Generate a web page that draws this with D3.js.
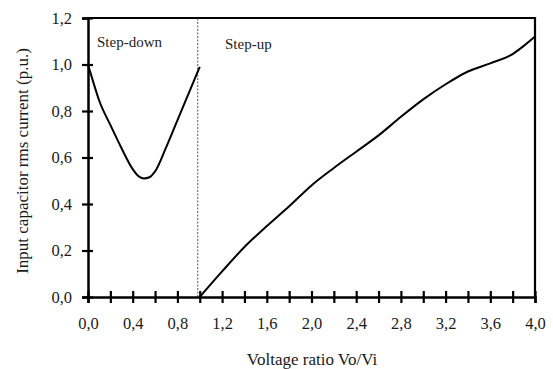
<!DOCTYPE html>
<html>
<head>
<meta charset="utf-8">
<script src="https://cdn.jsdelivr.net/npm/d3@7"></script>
<style>
  body { margin: 0; background: #fff; }
  svg text { font-family: "Liberation Serif", "Times New Roman", Times, "DejaVu Serif", serif; }
</style>
</head>
<body>
<svg id="chart" width="553" height="369"></svg>
<script>
// step-down branch (Vo/Vi < 1)
const downX = [0.0, 0.05, 0.1, 0.2, 0.3, 0.4, 0.45, 0.5, 0.55, 0.6, 0.7, 0.8, 0.9, 1.0];
const downY = [1.00, 0.92, 0.845, 0.74, 0.64, 0.55, 0.52, 0.51, 0.515, 0.54, 0.645, 0.76, 0.875, 0.99];

// step-up branch (Vo/Vi > 1)
const upX = [1.0, 1.2, 1.4, 1.6, 1.8, 2.0, 2.2, 2.4, 2.6, 2.8, 3.0, 3.2, 3.4, 3.6, 3.8, 3.9, 4.0];
const upY = [0.00, 0.11, 0.215, 0.305, 0.39, 0.48, 0.555, 0.625, 0.695, 0.775, 0.85, 0.915, 0.97, 1.005, 1.045, 1.08, 1.12];

const xTicks = d3.range(0, 4.01, 0.2);
const yTicks = [0, 0.2, 0.4, 0.6, 0.8, 1.0, 1.2];
const regionLabels = ['Step-down', 'Step-up'];

const margin = { left: 88, right: 18, top: 18, bottom: 72 };
const width = 553, height = 369;

const svg = d3.select('#chart');

const x = d3.scaleLinear().domain([0, 4]).range([margin.left, width - margin.right]);
const y = d3.scaleLinear().domain([0, 1.2]).range([height - margin.bottom, margin.top]);

const fmt = v => d3.format('.1f')(v).replace('.', ',');

// frame: top and right
svg.append('path')
    .attr('d', `M${x(0)},${y(1.2)}H${x(4)}V${y(0)}`)
    .attr('fill', 'none')
    .attr('stroke', '#000')
    .attr('stroke-width', 2.2);

// dashed separator at Vo/Vi = 1
svg.append('line')
    .attr('x1', x(1) - 2).attr('x2', x(1) - 2)
    .attr('y1', y(0)).attr('y2', y(1.2))
    .attr('stroke', '#555')
    .attr('stroke-width', 1)
    .attr('stroke-dasharray', '2,1.5');

// x axis, ticks crossing the line
svg.append('g')
    .attr('transform', `translate(0,${y(0)})`)
    .call(d3.axisBottom(x)
        .tickValues(xTicks)
        .tickSize(6)
        .tickPadding(14)
        .tickFormat(d => Math.round(d * 10) % 4 === 0 ? fmt(d) : ''))
    .call(g => g.attr('font-family', null))
    .call(g => g.select('.domain').attr('stroke-width', 2.5))
    .call(g => g.selectAll('.tick line').attr('y1', -6).attr('stroke-width', 2.2))
    .call(g => g.selectAll('.tick text')
        .attr('font-size', 16.5)
        .attr('fill', '#1a1a1a'));

// y axis
svg.append('g')
    .attr('transform', `translate(${x(0)},0)`)
    .call(d3.axisLeft(y)
        .tickValues(yTicks)
        .tickSize(6)
        .tickPadding(10)
        .tickFormat(fmt))
    .call(g => g.attr('font-family', null))
    .call(g => g.select('.domain').attr('stroke-width', 2.5))
    .call(g => g.selectAll('.tick line').attr('x1', 5).attr('stroke-width', 2.2))
    .call(g => g.selectAll('.tick text')
        .attr('font-size', 16.5)
        .attr('fill', '#1a1a1a'));

const line = d3.line()
    .x(d => x(d[0]))
    .y(d => y(d[1]))
    .curve(d3.curveMonotoneX);

svg.append('path')
    .attr('d', line(downX.map((v, i) => [v, downY[i]])))
    .attr('fill', 'none')
    .attr('stroke', '#000')
    .attr('stroke-width', 2);

svg.append('path')
    .attr('d', line(upX.map((v, i) => [v, upY[i]])))
    .attr('fill', 'none')
    .attr('stroke', '#000')
    .attr('stroke-width', 2);

// region labels
svg.append('text')
    .attr('x', 97).attr('y', 47)
    .attr('font-size', 15)
    .attr('fill', '#222')
    .text(regionLabels[0]);

svg.append('text')
    .attr('x', 225).attr('y', 49)
    .attr('font-size', 15)
    .attr('fill', '#222')
    .text(regionLabels[1]);

// axis titles
svg.append('text')
    .attr('x', 312)
    .attr('y', 365)
    .attr('text-anchor', 'middle')
    .attr('font-size', 17)
    .attr('fill', '#1a1a1a')
    .text('Voltage ratio Vo/Vi');

svg.append('text')
    .attr('transform', `translate(28,${161}) rotate(-90)`)
    .attr('text-anchor', 'middle')
    .attr('font-size', 17)
    .attr('fill', '#1a1a1a')
    .text('Input capacitor rms current (p.u.)');
</script>
</body>
</html>
